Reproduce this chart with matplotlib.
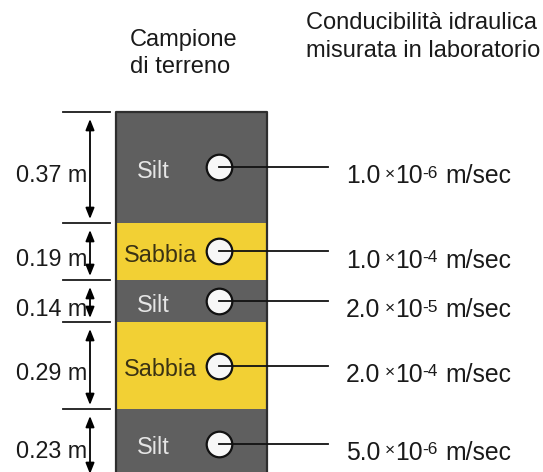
import matplotlib
matplotlib.use("Agg")
import matplotlib.pyplot as plt
import numpy as np

# ---------------- data ----------------
layer_types = ["Silt", "Sabbia", "Silt", "Sabbia", "Silt"]
thickness_m = [0.37, 0.19, 0.14, 0.29, 0.23]
thickness_labels = ["0.37 m", "0.19 m", "0.14 m", "0.29 m", "0.23 m"]
k_mantissa = ["1.0", "1.0", "2.0", "2.0", "5.0"]
k_exponent = ["-6", "-4", "-5", "-4", "-6"]
k_unit = "m/sec"
header_left = ["Campione", "di terreno"]
header_right = ["Conducibilità idraulica", "misurata in laboratorio"]

# ---------------- style ----------------
plt.rcParams["font.family"] = ["Liberation Sans", "DejaVu Sans"]
W, H, DPI = 543, 472, 100
PX_PER_M = 300.0
TOP_PX = 112.0
FS = 16.8
FS_HEAD = 17
FS_K = 17.8
FS_SMALL = 12.5
fill = {"Silt": "#5f5f5f", "Sabbia": "#f2d034"}
txtcol = {"Silt": "#e6e6e6", "Sabbia": "#3a3214"}
txtx = {"Silt": 137, "Sabbia": 124}
COL_X0, COL_X1 = 116, 267


def px(v):
    """pixel distance -> metres along the depth axis"""
    return v / PX_PER_M


fig = plt.figure(figsize=(W / DPI, H / DPI), dpi=DPI)
ax = fig.add_axes([0, 0, 1, 1])
ax.set_xlim(0, W)
ax.set_ylim((H - TOP_PX) / PX_PER_M, -TOP_PX / PX_PER_M)
ax.axis("off")

tops = np.concatenate([[0], np.cumsum(thickness_m)[:-1]])
bots = np.cumsum(thickness_m)
mids = (tops + bots) / 2

# column layers
for t, b, kind in zip(tops, bots, layer_types):
    ax.fill_between([COL_X0, COL_X1], [t, t], [b, b], color=fill[kind], lw=0, zorder=1)
ax.plot([COL_X0, COL_X0, COL_X1, COL_X1], [bots[-1], 0, 0, bots[-1]],
        color="#2e2e2e", lw=1.6, zorder=2)

# layer names
for m, kind in zip(mids, layer_types):
    ax.text(txtx[kind], m + px(11), kind, fontsize=FS, color=txtcol[kind],
            ha="left", va="baseline", zorder=3)

# sample circles and leader lines
ax.scatter([219] * len(mids), mids, s=340, facecolor="#f7f7f7",
           edgecolor="#111111", linewidths=1.6, zorder=4)
for m in mids:
    ax.plot([219, 328], [m, m], color="#111111", lw=1.3, zorder=5)

# conductivity labels
for m, man, ex in zip(mids, k_mantissa, k_exponent):
    yb = m + px(16)
    t1 = ax.text(346, yb, man, fontsize=FS_K, ha="left", va="baseline", color="#1a1a1a")
    t2 = ax.annotate("\u00d7", xy=(1, yb - px(4.5)), xycoords=(t1, "data"),
                     xytext=(3.0, 0), textcoords="offset points",
                     fontsize=FS_SMALL, ha="left", va="baseline", color="#1a1a1a")
    t3 = ax.annotate("10", xy=(1, yb), xycoords=(t2, "data"),
                     xytext=(0.2, 0), textcoords="offset points",
                     fontsize=FS_K, ha="left", va="baseline", color="#1a1a1a")
    t4 = ax.annotate(ex, xy=(1, yb - px(5.5)), xycoords=(t3, "data"),
                     xytext=(0, 0), textcoords="offset points",
                     fontsize=FS_SMALL, ha="left", va="baseline", color="#1a1a1a")
    ax.annotate(k_unit, xy=(1, yb), xycoords=(t4, "data"),
                xytext=(5.0, 0), textcoords="offset points",
                fontsize=FS_K, ha="left", va="baseline", color="#1a1a1a")

# thickness dimension marks
for t in tops:
    ax.plot([63, 110], [t, t], color="#1a1a1a", lw=1.3, zorder=2)
for t, b, m, lab in zip(tops, bots, mids, thickness_labels):
    ax.annotate("", xy=(90, t + px(7)), xytext=(90, b - px(4)),
                arrowprops=dict(arrowstyle="<|-|>,head_length=0.5,head_width=0.2",
                                mutation_scale=13, color="black", lw=1.3,
                                shrinkA=0, shrinkB=0))
    ax.text(87, m + px(15), lab, fontsize=FS, ha="right", va="baseline", color="#1a1a1a")

# headers (placed in pixel rows above the column)
ax.text(130, px(46 - TOP_PX), header_left[0], fontsize=FS_HEAD, ha="left", va="baseline", color="#1a1a1a")
ax.text(130, px(73 - TOP_PX), header_left[1], fontsize=FS_HEAD, ha="left", va="baseline", color="#1a1a1a")
ax.text(306, px(29 - TOP_PX), header_right[0], fontsize=FS_HEAD, ha="left", va="baseline", color="#1a1a1a")
ax.text(306, px(57 - TOP_PX), header_right[1], fontsize=FS_HEAD, ha="left", va="baseline", color="#1a1a1a")

fig.savefig("out.png", dpi=DPI)
